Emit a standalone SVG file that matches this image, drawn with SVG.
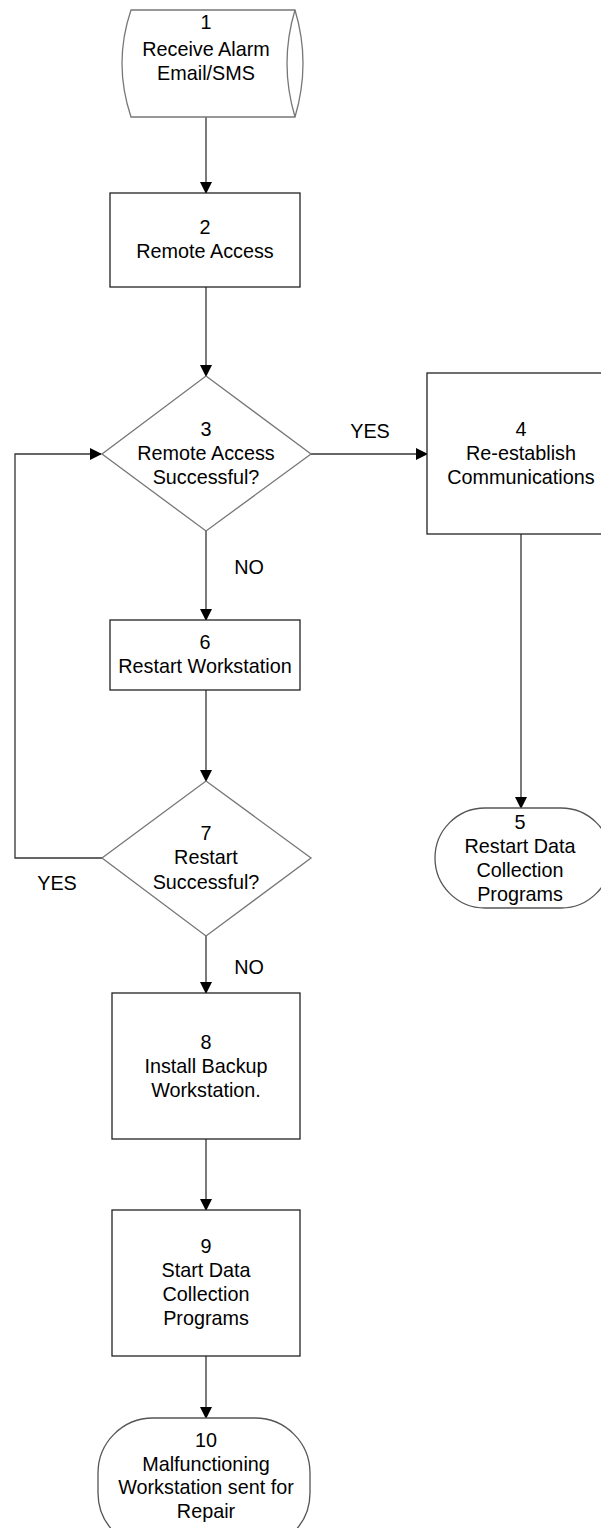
<svg xmlns="http://www.w3.org/2000/svg" width="601" height="1528" viewBox="0 0 601 1528">
<style>
.t{font-family:"Liberation Sans",Arial,sans-serif;font-size:19.8px;fill:#000;text-anchor:middle}
.box{fill:#fff;stroke:#222;stroke-width:1.3}
.dia{fill:#fff;stroke:#777;stroke-width:1.3}
.term{fill:#fff;stroke:#555;stroke-width:1.3}
.c{fill:none;stroke:#333;stroke-width:1.3}
</style>
<defs>
<marker id="ah" markerWidth="12" markerHeight="12" refX="11" refY="6" orient="auto" markerUnits="userSpaceOnUse">
<path d="M0,0 L12,6 L0,12 Z" fill="#000"/>
</marker>
</defs>
<rect width="601" height="1528" fill="#fff"/>
<g id="connectors">
<line class="c" x1="206" y1="117" x2="206" y2="193" marker-end="url(#ah)"/>
<line class="c" x1="206" y1="287" x2="206" y2="376" marker-end="url(#ah)"/>
<line class="c" x1="311" y1="454" x2="427" y2="454" marker-end="url(#ah)"/>
<line class="c" x1="206" y1="531" x2="206" y2="620" marker-end="url(#ah)"/>
<line class="c" x1="206" y1="690" x2="206" y2="781" marker-end="url(#ah)"/>
<polyline class="c" points="102,858 15,858 15,454 101,454" marker-end="url(#ah)"/>
<line class="c" x1="206" y1="936" x2="206" y2="993" marker-end="url(#ah)"/>
<line class="c" x1="206" y1="1139" x2="206" y2="1210" marker-end="url(#ah)"/>
<line class="c" x1="206" y1="1356" x2="206" y2="1418" marker-end="url(#ah)"/>
<line class="c" x1="521" y1="534" x2="521" y2="808" marker-end="url(#ah)"/>
<text class="t" x="370" y="438">YES</text>
<text class="t" x="249" y="574">NO</text>
<text class="t" x="57" y="890">YES</text>
<text class="t" x="249" y="974">NO</text>
</g>
<g id="n1">
<path class="dia" d="M131,10 L295,10 Q311,63 295,117 L131,117 Q113,63 131,10 Z"/>
<path class="dia" d="M295,10 Q279,63 295,117"/>
<text class="t" x="206" y="29">1</text>
<text class="t" x="206" y="56">Receive Alarm</text>
<text class="t" x="206" y="80">Email/SMS</text>
</g>
<g id="n2">
<rect class="box" x="110" y="193" width="190" height="94"/>
<text class="t" x="205" y="234">2</text>
<text class="t" x="205" y="258">Remote Access</text>
</g>
<g id="n3">
<polygon class="dia" points="206,376 311,454 206,531 102,454"/>
<text class="t" x="206" y="436">3</text>
<text class="t" x="206" y="460">Remote Access</text>
<text class="t" x="206" y="484">Successful?</text>
</g>
<g id="n4">
<rect class="box" x="427" y="373" width="190" height="161"/>
<text class="t" x="521" y="436">4</text>
<text class="t" x="521" y="460">Re-establish</text>
<text class="t" x="521" y="484">Communications</text>
</g>
<g id="n5">
<rect class="term" x="435" y="808" width="176" height="100" rx="50" ry="50"/>
<text class="t" x="520" y="829">5</text>
<text class="t" x="520" y="853">Restart Data</text>
<text class="t" x="520" y="877">Collection</text>
<text class="t" x="520" y="901">Programs</text>
</g>
<g id="n6">
<rect class="box" x="110" y="620" width="190" height="70"/>
<text class="t" x="205" y="649">6</text>
<text class="t" x="205" y="673">Restart Workstation</text>
</g>
<g id="n7">
<polygon class="dia" points="206,781 311,858 206,936 102,858"/>
<text class="t" x="206" y="840">7</text>
<text class="t" x="206" y="864">Restart</text>
<text class="t" x="206" y="889">Successful?</text>
</g>
<g id="n8">
<rect class="box" x="112" y="993" width="188" height="146"/>
<text class="t" x="206" y="1049">8</text>
<text class="t" x="206" y="1073">Install Backup</text>
<text class="t" x="206" y="1097">Workstation.</text>
</g>
<g id="n9">
<rect class="box" x="112" y="1210" width="188" height="146"/>
<text class="t" x="206" y="1253">9</text>
<text class="t" x="206" y="1277">Start Data</text>
<text class="t" x="206" y="1301">Collection</text>
<text class="t" x="206" y="1325">Programs</text>
</g>
<g id="n10">
<rect class="term" x="98" y="1418" width="212" height="130" rx="55" ry="55"/>
<text class="t" x="206" y="1447">10</text>
<text class="t" x="206" y="1471">Malfunctioning</text>
<text class="t" x="206" y="1494">Workstation sent for</text>
<text class="t" x="206" y="1518">Repair</text>
</g>
</svg>
